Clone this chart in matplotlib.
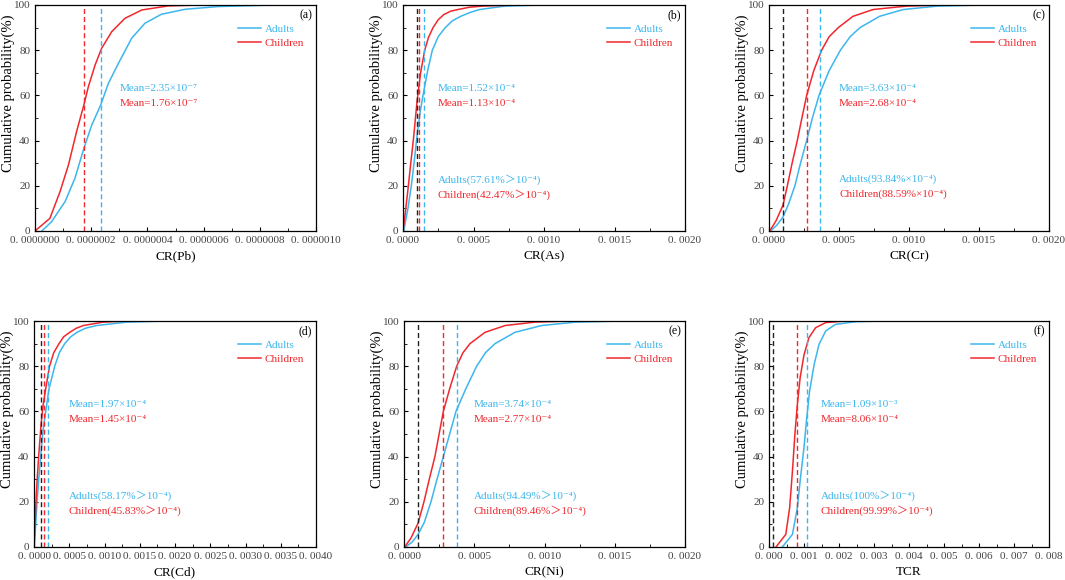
import matplotlib.pyplot as plt
import matplotlib.ticker as mticker

FONTS = ['Liberation Serif', 'DejaVu Serif', 'Noto Sans CJK SC']
plt.rcParams['font.family'] = FONTS

BLUE = '#3CB6EC'
RED = '#F0282D'

# x values are in units of the panel scale, y in cumulative %
scales = [1e-7, 1e-4, 1e-4, 1e-4, 1e-4, 1e-3]
xlabels = ['CR(Pb)', 'CR(As)', 'CR(Cr)', 'CR(Cd)', 'CR(Ni)', 'TCR']
tags = ['(a)', '(b)', '(c)', '(d)', '(e)', '(f)']

adult_x = [
    [0.24, 0.59, 1.07, 1.42, 1.74, 2.02, 2.34, 2.61, 2.97, 3.44, 3.91, 4.5, 5.34, 6.5, 8.5],
    [0.05, 0.35, 0.59, 0.8, 1.0, 1.2, 1.42, 1.75, 2.08, 2.5, 3.0, 3.5, 4.1, 4.8, 5.44, 7.2, 9.8],
    [0.1, 0.55, 1.0, 1.4, 1.85, 2.25, 2.69, 3.1, 3.57, 4.3, 5.1, 5.8, 6.5, 7.9, 9.6, 12.0, 15.3],
    [0.05, 0.2, 0.43, 0.7, 1.0, 1.3, 1.66, 2.13, 2.94, 3.6, 4.36, 5.2, 6.1, 7.3, 8.9, 13.1, 18.8],
    [0.1, 0.55, 1.0, 1.45, 1.92, 2.35, 2.8, 3.25, 3.7, 4.4, 5.17, 5.8, 6.48, 7.9, 9.8, 12.2, 15.5],
    [0.38, 0.67, 0.81, 0.9, 1.0, 1.07, 1.16, 1.29, 1.43, 1.62, 1.9, 2.48, 3.33],
]
adult_y = [
    [0, 4.1, 13, 23.3, 36.6, 46.9, 55.8, 65.3, 74.2, 85.3, 91.9, 95.9, 98.1, 99.3, 100],
    [0, 10, 20, 31, 42.39, 52, 60, 71, 80, 86, 90, 93, 95, 96.8, 98, 99.5, 100],
    [0, 2.5, 6.16, 12, 20, 30, 40, 50, 60, 71, 80, 86, 90, 95, 98, 99.5, 100],
    [0, 8, 20, 31, 41.83, 52, 60, 70, 80, 86, 90, 93, 95, 96.8, 98, 99.5, 100],
    [0, 2, 5.51, 11, 20, 30, 40, 50, 60, 70, 80, 86, 90, 95, 98, 99.5, 100],
    [0, 5.6, 17.4, 30.7, 44, 55.8, 69, 80.8, 89.7, 95.6, 98.5, 99.7, 100],
]
child_x = [
    [0.0, 0.53, 0.89, 1.19, 1.48, 1.74, 1.9, 2.14, 2.37, 2.73, 3.2, 3.8, 4.74, 5.9],
    [0.0, 0.2, 0.38, 0.55, 0.73, 1.0, 1.25, 1.54, 1.8, 2.13, 2.5, 2.9, 3.4, 3.9, 4.7, 5.6, 7.9],
    [0.05, 0.5, 1.0, 1.31, 1.65, 2.02, 2.35, 2.69, 3.2, 3.76, 4.3, 4.95, 6.0, 7.44, 9.8, 12.4],
    [0.0, 0.12, 0.28, 0.45, 0.66, 1.0, 1.3, 1.66, 2.2, 2.8, 3.55, 4.2, 5.07, 6.0, 7.0, 9.8, 13.0],
    [0.05, 0.5, 1.0, 1.42, 1.8, 2.2, 2.5, 2.8, 3.25, 3.75, 4.2, 4.7, 5.77, 7.2, 9.3, 11.9],
    [0.2, 0.48, 0.59, 0.67, 0.74, 0.81, 0.89, 1.0, 1.14, 1.33, 1.62, 2.2],
]
child_y = [
    [0, 5.6, 17.4, 29.2, 44, 55.8, 63.9, 73.5, 80.8, 88.2, 94.1, 97.8, 99.6, 100],
    [0, 10, 20, 30, 40, 57.53, 70, 80, 85.5, 90, 93.5, 95.8, 97.3, 98, 99, 99.5, 100],
    [0, 4.5, 11.41, 20, 30, 40, 50, 60, 71, 80, 86, 90, 95, 98, 99.5, 100],
    [0, 8, 20, 30, 40, 54.17, 63, 70, 80, 86, 90, 93, 95, 96.8, 98, 99.5, 100],
    [0, 4, 10.54, 20, 30, 40, 50, 60, 70, 80, 86, 90, 95, 98, 99.5, 100],
    [0, 5.6, 17.4, 33.6, 49.9, 63, 75, 85, 92.6, 97, 99.3, 100],
]

adult_mean = [2.35e-7, 1.52e-4, 3.63e-4, 1.97e-4, 3.74e-4, 1.09e-3]
child_mean = [1.76e-7, 1.13e-4, 2.68e-4, 1.45e-4, 2.77e-4, 8.06e-4]
mean_a_txt = ['2.35×10⁻⁷', '1.52×10⁻⁴', '3.63×10⁻⁴', '1.97×10⁻⁴', '3.74×10⁻⁴', '1.09×10⁻³']
mean_c_txt = ['1.76×10⁻⁷', '1.13×10⁻⁴', '2.68×10⁻⁴', '1.45×10⁻⁴', '2.77×10⁻⁴', '8.06×10⁻⁴']
thr_a_txt = [None, 'Adults(57.61%＞10⁻⁴)', 'Adults(93.84%×10⁻⁴)',
             'Adults(58.17%＞10⁻⁴)', 'Adults(94.49%＞10⁻⁴)', 'Adults(100%＞10⁻⁴)']
thr_c_txt = [None, 'Children(42.47%＞10⁻⁴)', 'Children(88.59%×10⁻⁴)',
             'Children(45.83%＞10⁻⁴)', 'Children(89.46%＞10⁻⁴)', 'Children(99.99%＞10⁻⁴)']
threshold = 1e-4

xmax = [1e-6, 0.002, 0.002, 0.004, 0.002, 0.008]
xstep = [2e-7, 5e-4, 5e-4, 5e-4, 5e-4, 1e-3]
decimals = [7, 4, 4, 4, 4, 3]
text_x = [0.30, 0.124, 0.25, 0.124, 0.249, 0.185]

lefts = [35, 403, 769, 34, 404, 769]
rights = [316, 685, 1049, 316, 685, 1049]
tops = [5, 5, 5, 321, 321, 321]
W, H = 1065, 580
AH = 226

fig = plt.figure(figsize=(W / 100, H / 100), dpi=100)

for i in range(6):
    aw = rights[i] - lefts[i]
    ax = fig.add_axes([lefts[i] / W, 1 - (tops[i] + AH) / H, aw / W, AH / H])
    s = scales[i]
    ax.plot([v * s for v in adult_x[i]], adult_y[i], color=BLUE, lw=1.1, label='Adults')
    ax.plot([v * s for v in child_x[i]], child_y[i], color=RED, lw=1.1, label='Children')
    dash = (3.6, 2.2)
    if i > 0:
        ax.axvline(threshold, color='#222222', ls='--', lw=1.0, dashes=dash)
    ax.axvline(child_mean[i], color=RED, ls='--', lw=1.0, dashes=dash)
    ax.axvline(adult_mean[i], color=BLUE, ls='--', lw=1.0, dashes=dash)

    ax.set_xlim(0, xmax[i])
    ax.set_ylim(0, 100)
    ax.xaxis.set_major_locator(mticker.MultipleLocator(xstep[i]))
    ax.xaxis.set_minor_locator(mticker.MultipleLocator(xstep[i] / 2))
    ax.yaxis.set_major_locator(mticker.MultipleLocator(20))
    ax.yaxis.set_minor_locator(mticker.MultipleLocator(10))
    d = decimals[i]
    ax.xaxis.set_major_formatter(mticker.FuncFormatter(
        lambda v, p, d=d: f"{v:.{d}f}".replace('.', '. ')))
    ax.tick_params(which='both', direction='in', labelsize=8, labelcolor='#444444')
    ax.tick_params(which='major', length=3)
    ax.tick_params(which='minor', length=2)
    for sp in ax.spines.values():
        sp.set_linewidth(0.9)
    ax.set_xlabel(xlabels[i], fontsize=9.5, labelpad=4)
    ax.set_ylabel('Cumulative probability(%)', fontsize=10.5)
    ax.yaxis.set_label_coords(-20 / aw, 0.61)

    ax.text(1 - 4 / aw, 1 - 10 / AH, tags[i], transform=ax.transAxes, fontsize=8.5,
            ha='right', va='center')
    leg = ax.legend(loc='upper right', bbox_to_anchor=(1 - 12 / aw, 1 - 19 / AH),
                    frameon=False, fontsize=8, handlelength=2.1, handletextpad=0.3,
                    labelspacing=0.4, borderaxespad=0, borderpad=0)
    for t, c in zip(leg.get_texts(), [BLUE, RED]):
        t.set_color(c)

    ax.text(text_x[i], 0.63, 'Mean=' + mean_a_txt[i], transform=ax.transAxes,
            color=BLUE, fontsize=8, va='center')
    ax.text(text_x[i], 0.566, 'Mean=' + mean_c_txt[i], transform=ax.transAxes,
            color=RED, fontsize=8, va='center')
    if thr_a_txt[i]:
        ax.text(text_x[i], 0.228, thr_a_txt[i], transform=ax.transAxes,
                color=BLUE, fontsize=8, va='center')
        ax.text(text_x[i], 0.162, thr_c_txt[i], transform=ax.transAxes,
                color=RED, fontsize=8, va='center')

fig.savefig('out.png', dpi=100)
